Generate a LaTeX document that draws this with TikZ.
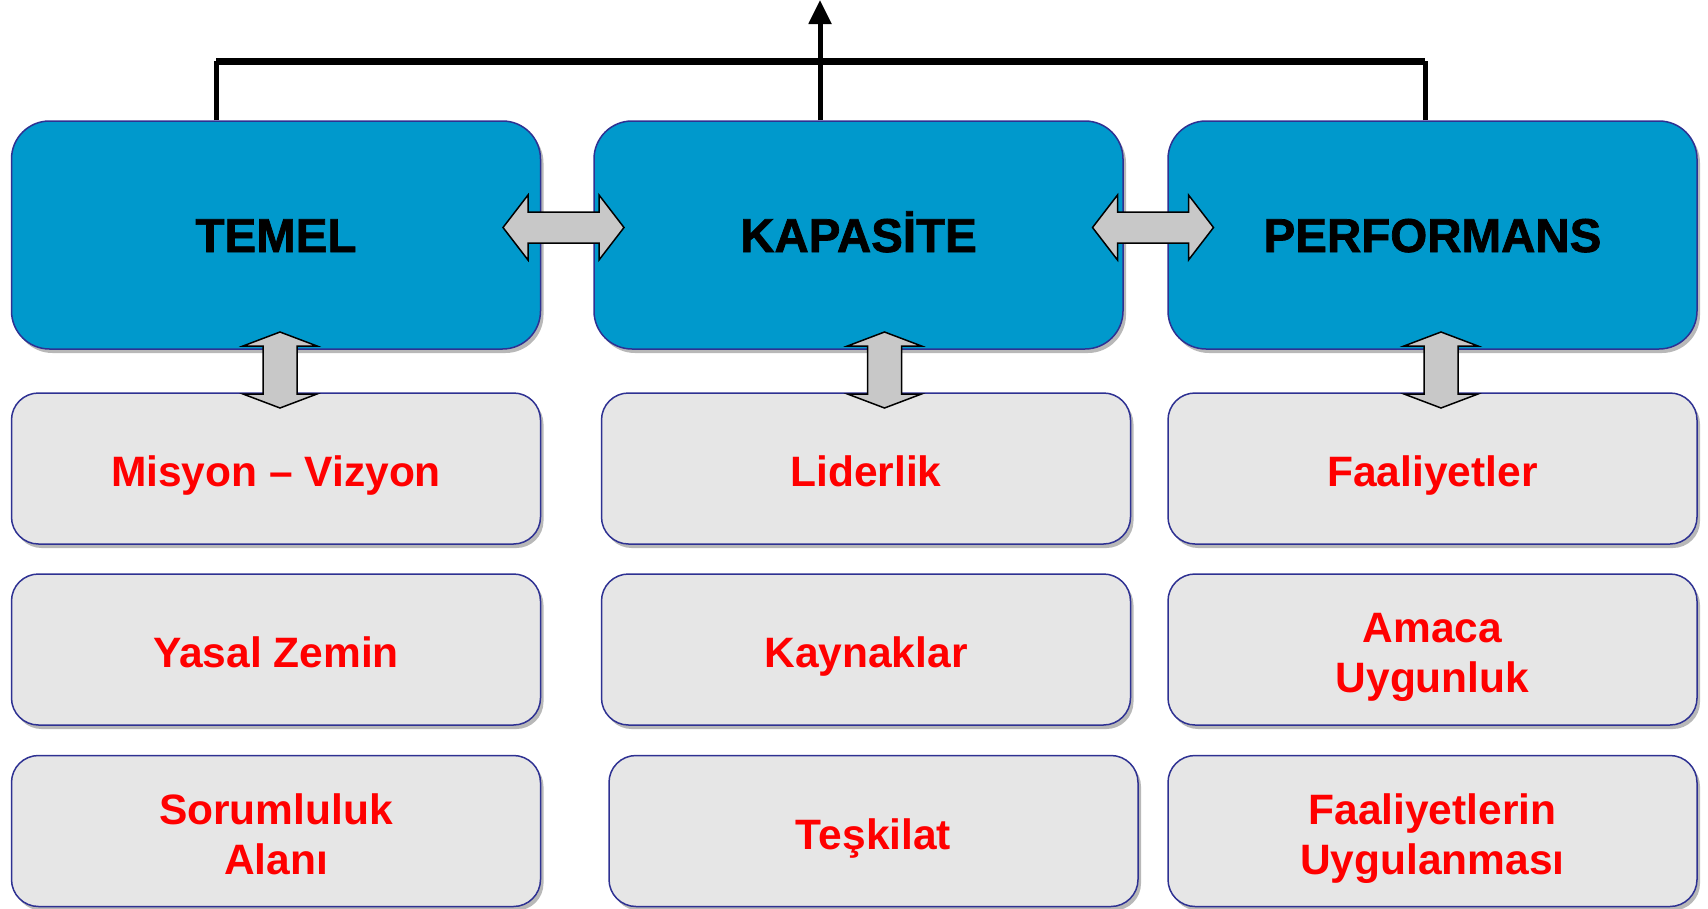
\documentclass[tikz,border=0pt]{standalone}
\usepackage{fontspec}
\setmainfont{Liberation Sans}
\newfontfamily\headfont[FakeBold=1.5]{Liberation Sans Bold}
\usetikzlibrary{shadows,arrows.meta}
\definecolor{topblue}{RGB}{0,153,204}
\definecolor{edgeblue}{RGB}{46,49,146}
\definecolor{lightbox}{RGB}{230,230,230}
\definecolor{arrowgray}{RGB}{200,200,200}
\newcommand\firstln{\rule{0pt}{51pt}}
\begin{document}
\begin{tikzpicture}[x=1pt,y=-1pt,
  boxshadow/.style={drop shadow={shadow xshift=3pt,shadow yshift=-4pt,opacity=.28,fill=black}},
  topbox/.style={draw=edgeblue,line width=1.5pt,fill=topblue,rounded corners=38pt,
    minimum width=529pt,minimum height=228pt,inner sep=0pt,boxshadow,
    text height=34pt,text depth=0pt,
    font=\headfont\fontsize{47.5}{56}\selectfont,text=black},
  subbox/.style={draw=edgeblue,line width=1.5pt,fill=lightbox,rounded corners=27pt,
    minimum width=529pt,minimum height=151pt,inner sep=0pt,boxshadow,align=center,
    font=\bfseries\fontsize{42.5}{50}\selectfont,text=red},
  blockarrow/.style={draw=black,line width=1.5pt,fill=arrowgray,line join=miter},
  conn/.style={draw=black,line width=5pt},
  harrow/.pic={\path[blockarrow] (-60.5,0) -- ++(25,-32.5) -- ++(0,17) -- ++(71,0) -- ++(0,-17)
      -- ++(25,32.5) -- ++(-25,32.5) -- ++(0,-17) -- ++(-71,0) -- ++(0,17) -- cycle;},
  varrow/.pic={\path[blockarrow] (0,-38) -- ++(37,14) -- ++(-20,0) -- ++(0,48) -- ++(20,0)
      -- ++(-37,14) -- ++(-37,-14) -- ++(20,0) -- ++(0,-48) -- ++(-20,0) -- cycle;}
]
\useasboundingbox (0,0) rectangle (1708,908);

% top boxes
\node[topbox] (temel) at (276,235) {TEMEL};
\node[topbox] (kap) at (858.5,235) {KAPASİTE};
\node[topbox] (perf) at (1432.5,235) {PERFORMANS};

% sub boxes
\node[subbox] (mis) at (276,468.5) {\firstln\strut Misyon – Vizyon};
\node[subbox] (yas) at (276,649.5) {\firstln\strut Yasal Zemin};
\node[subbox] (sor) at (276,831) {\firstln\strut Sorumluluk\\\strut Alanı};
\node[subbox] (lid) at (866,468.5) {\firstln\strut Liderlik};
\node[subbox] (kay) at (866,649.5) {\firstln\strut Kaynaklar};
\node[subbox] (tes) at (873.5,831) {\firstln\strut Teşkilat};
\node[subbox] (faa) at (1432.5,468.5) {\firstln\strut Faaliyetler};
\node[subbox] (ama) at (1432.5,649.5) {\firstln\strut Amaca\\\strut Uygunluk};
\node[subbox] (fuy) at (1432.5,831) {\firstln\strut Faaliyetlerin\\\strut Uygulanması};

% connectors to the top
\coordinate (barL) at (216,61);
\coordinate (barR) at (1425,61);
\coordinate (topC) at (820,0);
\draw[conn] (temel.north -| barL) -- (barL);
\draw[conn] (perf.north -| barR) -- (barR);
\draw[draw=black,line width=7pt] (barL) -- (barR);
\draw[conn,-{Triangle[width=22pt,length=24pt]}] (kap.north -| topC) -- (topC);

% block arrows
\coordinate (h1) at (563.5,227.5);
\coordinate (h2) at (1153,227.5);
\coordinate (v1) at (280,370);
\coordinate (v2) at (884.5,370);
\coordinate (v3) at (1441,370);
\pic at (h1) {harrow};
\pic at (h2) {harrow};
\pic at (v1) {varrow};
\pic at (v2) {varrow};
\pic at (v3) {varrow};
\end{tikzpicture}
\end{document}
